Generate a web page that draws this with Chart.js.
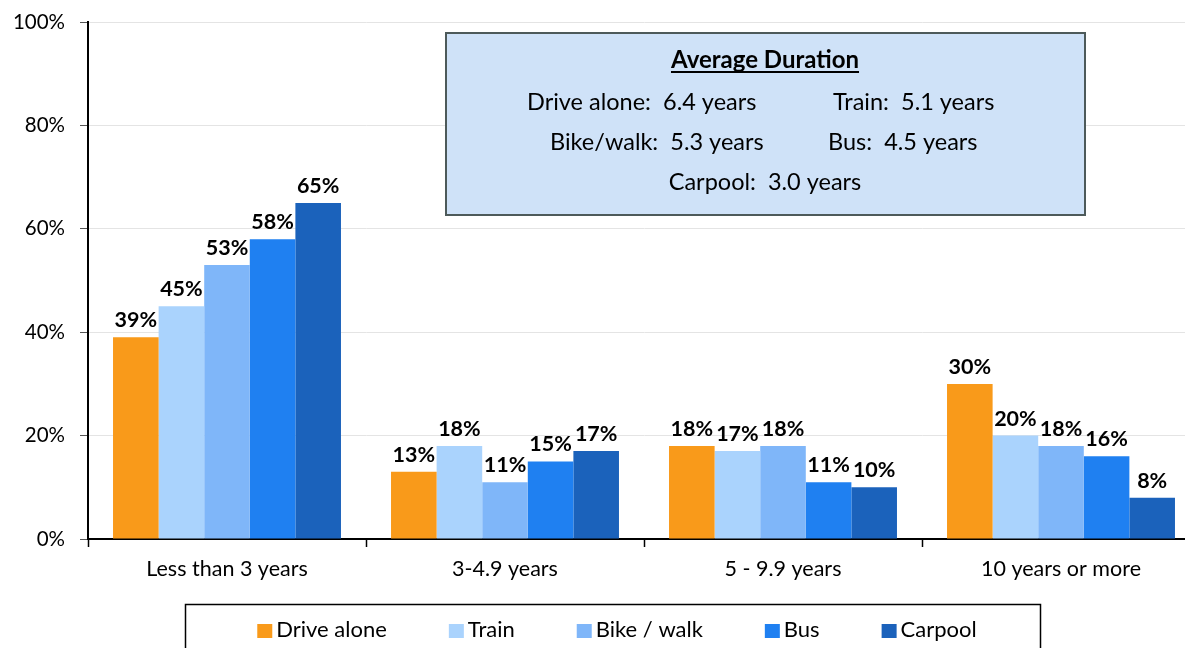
<!DOCTYPE html>
<html>
<head>
<meta charset="utf-8">
<script src="https://cdn.jsdelivr.net/npm/chart.js@4.4.0/dist/chart.umd.min.js"></script>
<style>
  html, body { margin: 0; padding: 0; background: #fff; overflow: hidden; }
  #wrap { width: 1200px; height: 648px; position: relative; }
</style>
</head>
<body>
<div id="wrap"><canvas id="duration-chart"></canvas></div>
<script>
const categories = ['Less than 3 years', '3-4.9 years', '5 - 9.9 years', '10 years or more'];
const driveAlone = [39, 13, 18, 30];
const train = [45, 18, 17, 20];
const bikeWalk = [53, 11, 18, 18];
const bus = [58, 15, 11, 16];
const carpool = [65, 17, 10, 8];
const yTicks = [0, 20, 40, 60, 80, 100];

const avgTitle = 'Average Duration';
const avgRows = [
  ['Drive alone:  6.4 years', 'Train:  5.1 years'],
  ['Bike/walk:  5.3 years', 'Bus:  4.5 years'],
  ['Carpool:  3.0 years']
];

const FONT = 'Lato, "Open Sans", sans-serif';

// value labels above bars
const barLabels = {
  id: 'barLabels',
  afterDatasetsDraw(chart) {
    const ctx = chart.ctx;
    ctx.save();
    ctx.font = 'bold 21.5px ' + FONT;
    ctx.fillStyle = '#000';
    ctx.textAlign = 'center';
    ctx.textBaseline = 'alphabetic';
    chart.data.datasets.forEach((ds, i) => {
      chart.getDatasetMeta(i).data.forEach((bar, j) => {
        ctx.fillText(ds.data[j] + '%', bar.x, bar.y - 10);
      });
    });
    ctx.restore();
  }
};

// "Average Duration" box + boxed legend
const extras = {
  id: 'extras',
  afterDraw(chart) {
    const ctx = chart.ctx;
    ctx.save();
    // info box
    ctx.fillStyle = '#cfe2f8';
    ctx.fillRect(446, 33, 639, 182);
    ctx.strokeStyle = '#4d5a5a';
    ctx.lineWidth = 2;
    ctx.strokeRect(446, 33, 639, 182);

    ctx.fillStyle = '#000';
    ctx.textBaseline = 'alphabetic';
    ctx.font = 'bold 24px ' + FONT;
    ctx.textAlign = 'center';
    ctx.fillText(avgTitle, 765, 68);
    const tw = ctx.measureText(avgTitle).width;
    ctx.fillRect(765 - tw / 2, 71, tw, 2);

    ctx.font = '23.5px ' + FONT;
    ctx.textAlign = 'left';
    ctx.fillText(avgRows[0][0], 527, 110);
    ctx.fillText(avgRows[0][1], 833, 110);
    ctx.fillText(avgRows[1][0], 550, 150);
    ctx.fillText(avgRows[1][1], 828, 150);
    ctx.textAlign = 'center';
    ctx.fillText(avgRows[2][0], 765, 190);

    // legend
    ctx.strokeStyle = '#000';
    ctx.lineWidth = 1.5;
    ctx.strokeRect(185.5, 604.5, 855, 60);
    ctx.font = '22px ' + FONT;
    ctx.textAlign = 'left';
    const items = chart.data.datasets;
    const gap = 62;
    let total = 0;
    items.forEach(d => { total += 15 + 4 + ctx.measureText(d.label).width; });
    total += gap * (items.length - 1);
    let x = 617 - total / 2;
    items.forEach(d => {
      ctx.fillStyle = d.backgroundColor;
      ctx.fillRect(x, 624, 15, 14);
      ctx.fillStyle = '#000';
      ctx.fillText(d.label, x + 19, 637);
      x += 19 + ctx.measureText(d.label).width + gap;
    });
    ctx.restore();
  }
};

const chartEl = document.getElementById('duration-chart');
new Chart(chartEl, {
  type: 'bar',
  data: {
    labels: categories,
    datasets: [
      { label: 'Drive alone', data: driveAlone, backgroundColor: '#f99a1a' },
      { label: 'Train', data: train, backgroundColor: '#aad3fd' },
      { label: 'Bike / walk', data: bikeWalk, backgroundColor: '#7fb6f9' },
      { label: 'Bus', data: bus, backgroundColor: '#1f80f1' },
      { label: 'Carpool', data: carpool, backgroundColor: '#1b62bb' }
    ]
  },
  options: {
    responsive: true,
    maintainAspectRatio: false,
    animation: false,
    categoryPercentage: 0.82,
    barPercentage: 1,
    layout: {
      padding: { top: 22, right: 0, bottom: 49, left: 0 }
    },
    scales: {
      x: {
        grid: {
          offset: true,
          drawOnChartArea: false,
          tickLength: 8,
          tickColor: '#000',
          tickWidth: 1.5
        },
        border: { color: '#000', width: 2 },
        ticks: {
          color: '#000',
          font: { family: FONT, size: 21.5 },
          padding: 9
        },
        afterFit(scale) { scale.height = 60; }
      },
      y: {
        min: 0,
        max: 100,
        afterBuildTicks(scale) { scale.ticks = yTicks.map(v => ({ value: v })); },
        grid: {
          color: '#e4e4e4',
          tickColor: '#555',
          tickLength: 8
        },
        border: { color: '#000', width: 2 },
        ticks: {
          color: '#000',
          font: { family: FONT, size: 20.5 },
          padding: 15,
          callback: v => v + '%'
        },
        afterFit(scale) {
          scale.width = 88;
          scale.paddingTop = 0;
          scale.paddingBottom = 0;
        }
      }
    },
    plugins: {
      legend: { display: false },
      tooltip: { enabled: false }
    }
  },
  plugins: [barLabels, extras]
});
</script>
</body>
</html>
